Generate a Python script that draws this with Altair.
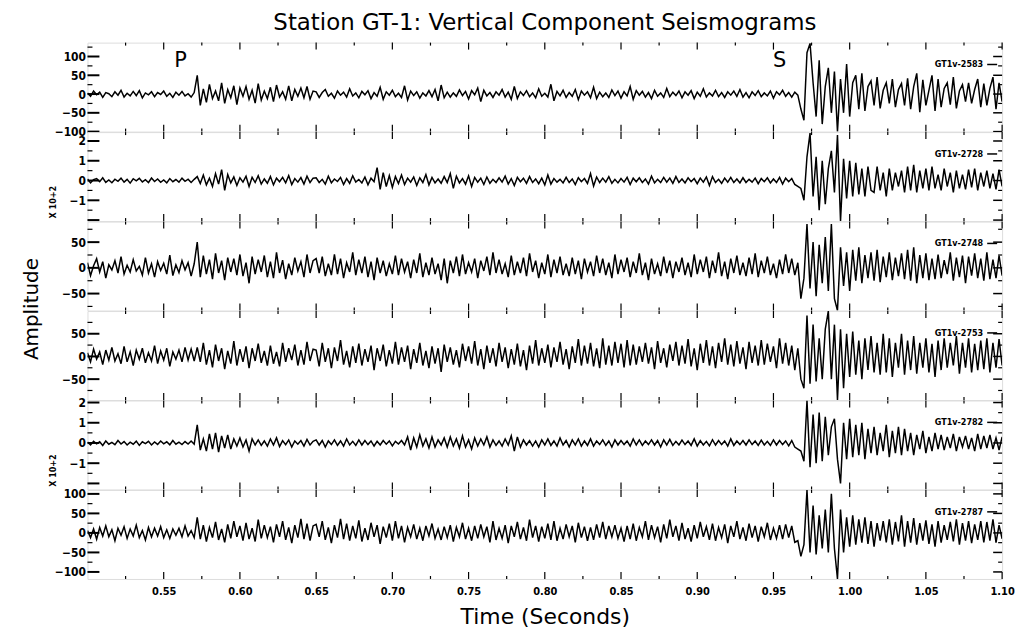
import altair as alt
import numpy as np
import pandas as pd

# ---- sampled traces, vertical component at station GT-1 (counts, 2 ms sampling) ----
T_START = 0.5
DT = 0.002

trace_2583 = [
    3, -6, 8, -2, 5, -9, 4, 1, -7, 6, -3, 10, -8, 2, -5, 7, -4, 9, -10, 3, -2, 6, -7, 4, -1, 8, -6, 2, -9, 5, -3, 7, -5, 1, -8, 4,
    50, -30, 14, -22, 26, -12, 8, -18, 30, -25, 12, -10, 22, -28, 16, -6, 20, -14, 10, -24,
    28, -16, 8, -12, 18, -20, 24, -8, 6, -14, 22, -18, 12, -6, 16, -10, 20, -14, 8,
    6, -9, 4, 12, -6, 2, -11, 8, -3, 5, -8, 14, -5, 3, -10, 7, -2, 9, -12, 4,
    -6, 18, -14, 6, -3, 10, -7, 2, -9, 22, -16, 8, -4, 6, -11, 3, -5, 9, -7, 12,
    -18, 24, -10, 5, -8, 3, -6, 11, -4, 7, -13, 9, -2, 16, -20, 10, -5, 4, -9, 6,
    -3, 12, -8, 5, -14, 20, -12, 6, -4, 9, -7, 3, -10, 14, -6, 2, -8, 26, -18, 7,
    -5, 10, -9, 4, -6, 12, -15, 8, -3, 6, -10, 18, -12, 5, -7, 3, -9, 11, -4, 8,
    -11, 6, -5, 20, -14, 9, -3, 7, -8, 4, -12, 10, -6, 3, -9, 15, -7, 5, -4, 8,
    -10, 6, -3, 9, -12, 5, -6, 14, -8, 3, -5, 10, -7, 4, -9, 6, -3, 8, -6, 12,
    -8, 4, -10, 6, -4, 9, -7, 3, -5, 8, -11, 6, -2, 10, -6, 4, -8, 5, -3,
    -40, -70, 110, 135, 30, -60, 90, -80, 20, 70, -50, 60, -100, 40, -50, 80, -60, 30, 50, -40,
    55, -45, 20, 35, -30, 45, -38, 10, 30, -25, 40, -35, 12, 28, -30, 42, -40, 20, 55, -48,
    38, -30, 10, 50, -45, 40, -35, 15, 30, -28, 45, -38, 8, 25, -20, 30, -25, 12, 40, -35,
    28, -30, 15, 45, -40, 30, -20,
]

trace_2728 = [
    8, -12, 5, 10, -6, 14, -9, 3, -11, 7, -4, 12, -8, 6, -13, 9, -2, 11, -7, 4, -10, 13, -5, 8, -9, 3, -12, 10, -6, 5, -8, 12, -4, 7, -10, 6,
    20, -15, 28, -22, 12, -30, 35, -18, 55, -50, 30, -12, 18, -25, 14, -8, 22, -30, 16, -10,
    24, -18, 8, -14, 20, -22, 12, -6, 16, -12, 25, -20, 10, -8, 15, -18, 22, -10, 12,
    14, -10, 6, -18, 22, -12, 8, -5, 16, -20, 10, -14, 24, -8, 5, -12, 18, -22, 12, -6,
    65, -45, 40, -30, 25, -35, 20, -15, 28, -20, 12, -8, 18, -25, 14, -10, 30, -22, 16, -12,
    8, -14, 20, -10, 35, -40, 22, -12, 10, -18, 24, -30, 16, -8, 12, -20, 18, -14, 6, -10,
    14, -8, 22, -18, 10, -25, 16, -6, 12, -14, 20, -10, 8, -16, 12, -22, 28, -18, 10, -8,
    6, -12, 16, -10, 8, -20, 14, -6, 10, -15, 35, -28, 18, -10, 12, -8, 20, -14, 6, -12,
    10, -8, 16, -20, 12, -6, 14, -10, 8, -18, 22, -12, 6, -10, 16, -8, 12, -14, 20, -10,
    8, -12, 14, -6, 10, -16, 12, -8, 18, -25, 20, -10, 6, -14, 12, -8, 16, -10, 8, -12,
    14, -10, 6, -8, 12, -16, 10, -6, 14, -12, 8, -10, 16, -18, 12, -6, 10, -20, -30,
    -40, -100, 120, 240, -80, 120, -150, 100, -120, 60, 150, -60, 230, -205, 110, -90, 100, -80, 90, -70,
    60, -80, 70, -50, -60, 70, -50, 40, -80, 60, -50, 40, -30, 50, -60, 70, -50, 80, -60, 50,
    -40, 60, -50, 70, -40, 30, -50, 60, -30, 40, -60, 50, -40, 30, -45, 55, -35, 60, -50, 40,
    -30, 50, -40, 35, -45, 55, -30,
]

trace_2748 = [
    10, -15, 4, 18, -8, 12, -20, 6, -4, 14, -10, 22, -12, 5, -8, 16, -6, 3, -14, 20,
    -10, 8, -18, 12, -5, 9, -12, 25, -15, 6, -9, 14, -4, 10, -16, 8,
    50, -18, 24, -12, 16, -22, 28, -10, 14, -24, 20, -8, 18, -14, 26, -16, 10, -30, 22, -12,
    16, -8, 24, -18, 12, -20, 30, -10, 15, -22, 8, -14, 20, -6, 12, -18, 26, -10, 14,
    18, -10, 22, -16, 8, -14, 26, -12, 18, -20, 10, -8, 30, -14, 16, -10, 22, -18, 12, -24,
    20, -10, 14, -16, 8, -12, 24, -14, 18, -8, 12, -20, 16, -10, 28, -18, 10, -14, 20, -12,
    8, -24, 18, -30, 14, -10, 22, -16, 26, -12, 10, -8, 18, -20, 14, -6, 22, -14, 30, -10,
    16, -12, 8, -18, 24, -14, 12, -10, 20, -16, 28, -8, 14, -20, 10, -12, 26, -18, 16, -10,
    22, -14, 8, -16, 20, -12, 14, -22, 18, -8, 12, -16, 24, -10, 18, -14, 10, -20, 26, -12,
    16, -8, 20, -18, 12, -10, 28, -14, 10, -24, 18, -12, 8, -16, 22, -10, 14, -20, 12, -8,
    20, -14, 10, -18, 26, -12, 16, -8, 22, -20, 14, -10, 30, -16, 12, -22, 18, -10, 24, -14,
    10, -16, 20, -12, 28, -18, 14, -10, 22, -14, 8, -20, 16, -12, 26, -10, 18, -14, 10,
    -60, -20, 85, -40, 50, -55, 45, -30, 60, -45, 85, -60, -83, 40, -35, 30, -45, 35, -25, 40,
    -30, 25, -20, 30, -25, 35, -28, 22, -18, 30, -24, 20, -16, 28, -22, 35, -25, 40, -30, 25,
    -20, 28, -24, 18, -22, 26, -20, 15, -12, 30, -25, 20, -18, 24, -30, 22, -15, 28, -20, 18,
    -25, 30, -22, 16, -20, 24, -15,
]

trace_2753 = [
    8, -12, 16, -6, 10, -18, 14, -8, 20, -10, 6, -16, 22, -12, 10, -20, 14, -6, 18, -14,
    8, -10, 24, -16, 12, -8, 18, -22, 10, -6, 14, -12, 20, -8, 16, -10,
    20, -12, 30, -18, 14, -24, 26, -10, 18, -28, 12, -16, 34, -20, 16, -12, 22, -26, 18, -10,
    28, -14, 12, -20, 24, -16, 10, -22, 30, -12, 18, -8, 26, -20, 14, -18, 32, -10, 16,
    14, -22, 30, -12, 18, -26, 20, -10, 36, -18, 12, -24, 22, -14, 28, -20, 16, -12, 24, -30,
    18, -10, 26, -22, 14, -16, 32, -18, 20, -12, 24, -28, 16, -14, 30, -20, 12, -26, 22, -16,
    18, -34, 26, -12, 20, -18, 14, -24, 28, -10, 22, -16, 34, -20, 16, -28, 24, -14, 18, -22,
    30, -12, 20, -26, 16, -18, 28, -22, 14, -30, 24, -16, 36, -20, 18, -14, 26, -24, 20, -12,
    32, -18, 16, -28, 22, -14, 38, -20, 24, -16, 30, -22, 18, -26, 40, -18, 24, -20, 32, -14,
    28, -24, 36, -20, 26, -18, 22, -12, 30, -16, 20, -28, 34, -14, 18, -24, 26, -10, 32, -20,
    24, -16, 38, -22, 18, -30, 28, -14, 36, -20, 22, -26, 30, -12, 40, -18, 26, -22, 34, -16,
    20, -28, 32, -14, 24, -20, 36, -18, 28, -12, 22, -26, 40, -16, 30, -20, 24, -30, 18,
    -50, -70, 90, -60, 70, -55, 40, -50, 60, 100, -50, 70, -96, 60, -70, 50, -45, 55, -40, 35,
    -50, 40, -30, 45, -35, 30, -40, 50, -35, 40, -45, 30, -25, 50, -40, 35, -30, 45, -38, 30,
    -25, 40, -35, 28, -45, 35, -30, 40, -25, 30, -20, 45, -38, 30, -25, 40, -35, 28, -30, 35,
    -28, 40, -35, 30, -25, 38, -20,
]

trace_2782 = [
    5, -10, 8, -4, 6, -12, 10, -6, 3, -8, 12, -5, 7, -10, 4, -6, 9, -12, 6, -3,
    8, -10, 5, -7, 10, -4, 6, -9, 12, -6, 4, -8, 7, -5, 10, -6,
    90, -35, 20, -40, 45, -30, 50, -45, 35, -25, 40, -30, 20, -15, 25, -20, 15, -40, 20, -10,
    15, -12, 10, -15, 20, -10, 25, -18, 12, -8, 15, -20, 10, -6, 12, -15, 18, -10, 8,
    15, -10, 12, -20, 10, -8, 15, -12, 10, -15, 20, -10, 8, -12, 15, -10, 12, -8, 10, -15,
    8, -10, 12, -6, 10, -14, 8, -5, 12, -10, 30, -35, 25, -20, 40, -15, 20, -25, 30, -20,
    15, -10, 25, -20, 30, -15, 20, -25, 35, -20, 15, -30, 25, -15, 20, -10, 30, -20, 15, -12,
    10, -15, 20, -10, 35, -40, 30, -20, 15, -10, 12, -15, 10, -20, 15, -10, 20, -12, 10, -15,
    25, -10, 12, -20, 15, -10, 20, -15, 10, -12, 20, -15, 10, -8, 15, -12, 10, -20, 15, -10,
    12, -8, 10, -15, 20, -10, 15, -12, 10, -8, 15, -10, 12, -20, 15, -10, 18, -12, 8, -10,
    14, -8, 10, -12, 20, -15, 12, -10, 8, -14, 16, -10, 12, -8, 10, -15, 20, -12, 10, -8,
    12, -10, 15, -8, 10, -12, 14, -10, 8, -12, 15, -10, 12, -8, 10, -14, 12, -20, -30,
    -40, -90, 210, -120, 140, -100, 150, -90, 130, -60, 80, 120, -80, -200, 100, -80, 120, -70, 90, -60,
    100, -80, 70, -50, 80, -60, 50, -40, 90, -70, 60, -50, 80, -60, 70, -40, 50, -60, 40, -30,
    60, -50, 30, -40, 50, -30, 40, -35, 30, -25, 45, -40, 30, -20, 35, -30, 25, -40, 45, -30,
    35, -25, 40, -30, 25, -35, 30,
]

trace_2787 = [
    6, -12, 10, -16, 14, -8, 18, -10, 8, -20, 12, -6, 16, -14, 10, -8, 20, -12, 6, -18,
    14, -10, 12, -8, 16, -12, 8, -14, 10, -6, 12, -10, 18, -8, 6, -12,
    40, -16, 20, -22, 14, -12, 28, -18, 10, -24, 22, -14, 30, -10, 18, -20, 26, -16, 12, -22,
    34, -14, 20, -12, 16, -24, 22, -10, 30, -18, 14, -26, 20, -12, 36, -16, 24, -20, 18,
    22, -10, 30, -18, 14, -26, 20, -12, 36, -16, 24, -20, 18, -14, 32, -22, 12, -18, 26, -10,
    20, -28, 16, -12, 24, -20, 30, -14, 18, -24, 14, -10, 22, -16, 12, -20, 18, -8, 24, -14,
    10, -18, 16, -12, 20, -22, 14, -10, 26, -16, 12, -20, 18, -14, 22, -10, 16, -24, 30, -18,
    12, -14, 20, -26, 18, -10, 28, -16, 14, -20, 34, -12, 18, -22, 16, -14, 24, -18, 30, -20,
    12, -16, 22, -10, 18, -24, 26, -12, 16, -20, 14, -18, 22, -12, 28, -16, 18, -10, 20, -14,
    12, -22, 18, -16, 24, -20, 14, -10, 30, -18, 20, -12, 16, -24, 22, -14, 34, -10, 18, -20,
    26, -16, 12, -22, 20, -14, 28, -10, 16, -18, 24, -20, 14, -12, 22, -26, 18, -10, 30, -16,
    14, -20, 24, -12, 18, -22, 16, -10, 26, -18, 12, -14, 20, -16, 22, -12, 18, -24, -20,
    -60, -30, 110, -50, 70, -55, 45, -40, 60, -50, 100, -40, -118, 60, -50, 40, -35, 45, -30, 35,
    -25, 40, -28, 30, -35, 25, -20, 30, -24, 35, -30, 28, -22, 45, -35, 30, -25, 38, -30, 25,
    -20, 32, -28, 22, -35, 30, -25, 20, -18, 28, -22, 35, -30, 25, -20, 30, -26, 22, -18, 30,
    -24, 28, -20, 35, -25, 20, -15,
]

station_names = ["GT1v-2583", "GT1v-2728", "GT1v-2748", "GT1v-2753", "GT1v-2782", "GT1v-2787"]
traces = [trace_2583, trace_2728, trace_2748, trace_2753, trace_2782, trace_2787]

# panels drawn in units of 10^2 counts
scaled_panels = [1, 4]
unit = [100 if k in scaled_panels else 1 for k in range(len(traces))]

# y range and tick set of each panel, in the panel's own units
y_domains = [[-100, 137], [-2.05, 2.45], [-83, 90], [-96, 100], [-2.3, 2.1], [-118, 110]]
y_labels = [[100, 50, 0, -50, -100], [2, 1, 0, -1], [50, 0, -50], [50, 0, -50], [2, 1, 0, -1], [100, 50, 0, -50, -100]]
y_major = [[100, 50, 0, -50, -100], [2, 1, 0, -1, -2], [50, 0, -50], [50, 0, -50], [2, 1, 0, -1, -2], [100, 50, 0, -50, -100]]
y_minor = [[125, 75, 25, -25, -75], [1.5, 0.5, -0.5, -1.5], [75, 25, -25, -75], [75, 25, -25, -75],
           [1.5, 0.5, -0.5, -1.5], [75, 25, -25, -75]]

x_major = [0.55, 0.60, 0.65, 0.70, 0.75, 0.80, 0.85, 0.90, 0.95, 1.00, 1.05, 1.10]
x_minor = [0.525, 0.575, 0.625, 0.675, 0.725, 0.775, 0.825, 0.875, 0.925, 0.975, 1.025, 1.075]

phase_names = ["P", "S"]
phase_times = [0.561, 0.954]

W = 920
H = 89.5
SANS = "DejaVu Sans"
NARROW = "DejaVu Sans Condensed"

x_scale = alt.Scale(domain=[0.5, 1.1], nice=False, zero=False)


def x_enc(axis):
    return alt.X("t:Q", scale=x_scale, axis=axis)


def panel(k):
    bottom = k == len(traces) - 1
    y_scale = alt.Scale(domain=y_domains[k], nice=False, zero=False)

    if bottom:
        x_axis = alt.Axis(values=x_major, format=".2f", ticks=False, domain=False, grid=False,
                          labelFont=NARROW, labelFontSize=11, labelFontWeight="bold", labelColor="black",
                          labelPadding=7, labelFlush=False, labelOverlap=False,
                          title="Time (Seconds)", titleFont=SANS, titleFontSize=22,
                          titleFontWeight="normal", titleColor="black", titlePadding=10)
    else:
        x_axis = None

    axis_args = dict(values=y_labels[k], ticks=False, domain=False, grid=False,
                     labelFont=NARROW, labelFontSize=12, labelFontWeight="bold", labelColor="black",
                     labelPadding=2, labelOverlap=False, labelFlush=False)
    if k == 2:
        y_axis = alt.Axis(title="Amplitude", titleFont=SANS, titleFontSize=20, titleFontWeight="normal",
                          titleColor="black", titleAngle=270, titleX=-46, titleY=H - 2,
                          titleBaseline="bottom", **axis_args)
    elif k in scaled_panels:
        y_axis = alt.Axis(title="X 10+2", titleFont=NARROW, titleFontSize=9, titleFontWeight="bold",
                          titleColor="black", titleAngle=270, titleX=-30, titleY=70,
                          titleBaseline="bottom", **axis_args)
    else:
        y_axis = alt.Axis(title="", **axis_args)

    def y_enc():
        return alt.Y("v:Q", scale=y_scale, axis=y_axis)

    counts = np.asarray(traces[k], dtype=float)
    df = pd.DataFrame({"t": T_START + DT * np.arange(len(counts)), "v": counts / unit[k]})
    trace = alt.Chart(df).mark_line(color="black", strokeWidth=1.5, clip=True).encode(
        x=x_enc(x_axis), y=y_enc())

    xmaj = alt.Chart(pd.DataFrame({"t": x_major}))
    xmin = alt.Chart(pd.DataFrame({"t": x_minor}))
    ymaj = alt.Chart(pd.DataFrame({"v": y_major[k]}))
    ymin = alt.Chart(pd.DataFrame({"v": y_minor[k]}))
    rule = dict(color="black", strokeWidth=1.2)

    layers = [
        xmaj.mark_rule(**rule).encode(x=x_enc(x_axis), y=alt.value(0), y2=alt.value(7)),
        xmaj.mark_rule(**rule).encode(x=x_enc(x_axis), y=alt.value(H), y2=alt.value(H - 7)),
        xmin.mark_rule(**rule).encode(x=x_enc(x_axis), y=alt.value(0), y2=alt.value(3)),
        xmin.mark_rule(**rule).encode(x=x_enc(x_axis), y=alt.value(H), y2=alt.value(H - 3)),
        ymaj.mark_rule(color="black", strokeWidth=2).encode(y=y_enc(), x=alt.value(0), x2=alt.value(12)),
        ymin.mark_rule(**rule).encode(y=y_enc(), x=alt.value(0), x2=alt.value(5)),
        ymaj.mark_rule(color="black", strokeWidth=1.5).encode(y=y_enc(), x=alt.value(W), x2=alt.value(W - 9)),
        ymin.mark_rule(**rule).encode(y=y_enc(), x=alt.value(W), x2=alt.value(W - 4)),
        trace,
    ]

    name = alt.Chart(pd.DataFrame({"s": [station_names[k]]}))
    layers.append(name.mark_text(align="right", baseline="middle", font=NARROW, fontSize=9,
                                 fontWeight="bold", color="black").encode(
        x=alt.value(W - 19), y=alt.value(22), text="s:N"))
    layers.append(name.mark_rule(color="black", strokeWidth=1.5).encode(
        x=alt.value(W - 15), x2=alt.value(W - 5), y=alt.value(22)))

    if k == 0:
        phases = alt.Chart(pd.DataFrame({"t": phase_times, "p": phase_names}))
        layers.append(phases.mark_text(font=SANS, fontSize=21, color="black", baseline="middle").encode(
            x=x_enc(x_axis), y=alt.value(19), text="p:N"))

    return alt.layer(*layers).properties(width=W, height=H)


chart = alt.vconcat(*[panel(k) for k in range(len(traces))], spacing=0, bounds="flush").properties(
    title=alt.TitleParams("Station GT-1: Vertical Component Seismograms", font=SANS, fontSize=23,
                          fontWeight="normal", color="black", anchor="middle", offset=7, dx=27),
    padding={"left": 21, "top": 9, "right": 5, "bottom": 5},
).configure_view(stroke="black", strokeWidth=2).configure(background="white")

chart.save("out.html", embed_options={"renderer": "svg", "actions": False})
